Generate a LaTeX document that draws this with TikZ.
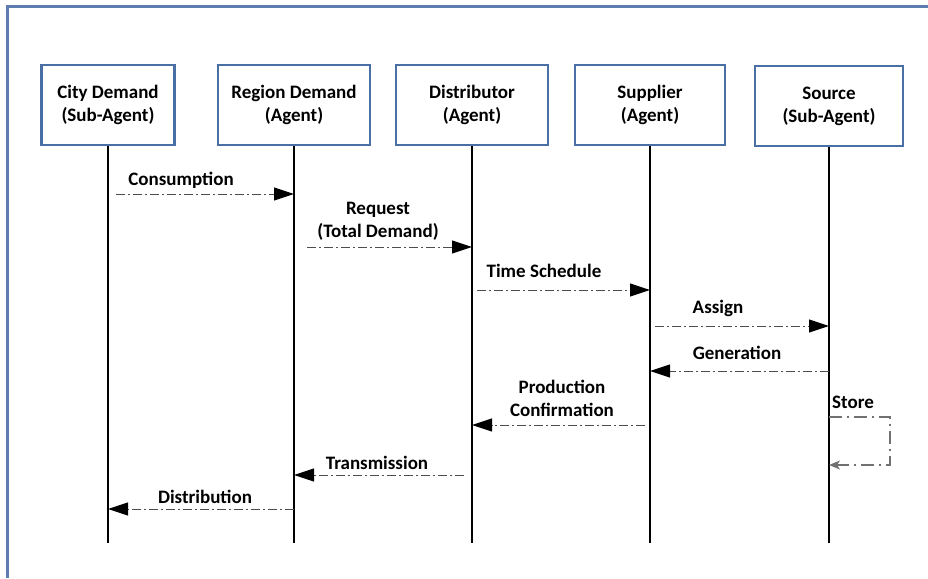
\documentclass[tikz,border=0pt]{standalone}
\usepackage{fontspec}
\setmainfont{Carlito}
\usetikzlibrary{arrows.meta,positioning,calc}
\definecolor{boxblue}{HTML}{4A6FA5}
\definecolor{msggray}{HTML}{4D4D4D}
\tikzset{
  agent/.style={draw=boxblue,line width=2.8pt,fill=white,align=center,font=\fontsize{19}{23}\selectfont\bfseries,minimum height=80pt,inner sep=2pt},
  life/.style={line width=1.4pt},
  msg/.style={draw=msggray,line width=1pt,dash pattern=on 9pt off 3pt on 2pt off 3pt,-{Triangle[length=20pt,width=13pt,color=black]}},
  selfmsg/.style={draw=msggray!80,line width=1.4pt,dash pattern=on 13pt off 5pt on 2pt off 5pt,-{Stealth[length=11pt,width=9pt,inset=3pt]}},
  lbl/.style={font=\fontsize{19}{23}\selectfont\bfseries,align=center,inner sep=1pt},
}
\begin{document}
\begin{tikzpicture}[x=1pt,y=-1pt]
\useasboundingbox (0,0) rectangle (928,578);
\draw[boxblue!90,line width=3pt] (7,578) -- (7,7) -- (928,7);
% agents
\node[agent,minimum width=133pt] (city) at (108,105) {City Demand\\(Sub-Agent)};
\node[agent,minimum width=152pt] (region) at (294,105) {Region Demand\\(Agent)};
\node[agent,minimum width=152pt] (dist) at (472,105) {Distributor\\(Agent)};
\node[agent,minimum width=150pt] (supp) at (650,105) {Supplier\\(Agent)};
\node[agent,minimum width=148pt] (src) at (829,106) {Source\\(Sub-Agent)};
\foreach \n in {city,region,dist,supp,src} \draw[life] (\n) -- (\n |- 0,543);
% messages
\draw[msg,shorten <=8pt] (city |- 0,194) -- (region |- 0,194);
\node[lbl] (consum) at (181,180) {Consumption};
\draw[msg,shorten <=13pt] (region |- 0,247) -- (dist |- 0,247);
\node[lbl] (req) at (378,221) {Request\\(Total Demand)};
\draw[msg,shorten <=5pt] (dist |- 0,290) -- (supp |- 0,290);
\node[lbl] (sched) at (544,271) {Time Schedule};
\draw[msg,shorten <=5pt] (supp |- 0,326) -- (src |- 0,326);
\node[lbl] (assign) at (718,308) {Assign};
\draw[msg] (src |- 0,371) -- (supp |- 0,371);
\node[lbl] (gen) at (737,353) {Generation};
\draw[msg,shorten <=5pt] (supp |- 0,425) -- (dist |- 0,425);
\node[lbl] (conf) at (562,398) {Production\\Confirmation};
\coordinate (st1) at (890,417);
\coordinate (st2) at (890,465);
\draw[selfmsg] (src |- st1) -- (st1) -- (st2) -- (src |- st2);
\node[lbl] (store) at (853,402) {Store};
\draw[msg,shorten <=8pt] (dist |- 0,475) -- (region |- 0,475);
\node[lbl] (trans) at (377,463) {Transmission};
\draw[msg] (region |- 0,509) -- (city |- 0,509);
\node[lbl] (distrib) at (205,497) {Distribution};
\end{tikzpicture}
\end{document}
